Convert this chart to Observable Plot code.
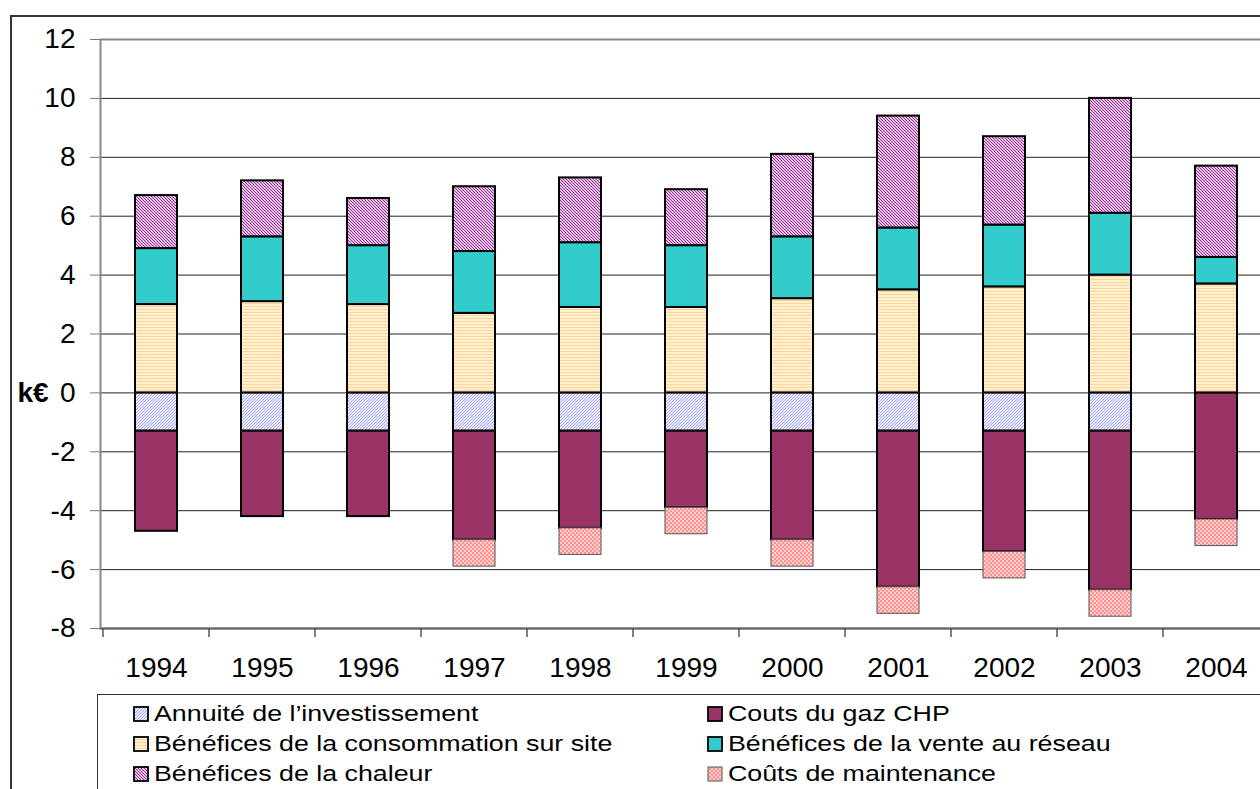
<!DOCTYPE html>
<html><head><meta charset="utf-8">
<script src="https://cdn.jsdelivr.net/npm/d3@7"></script>
<script src="https://cdn.jsdelivr.net/npm/@observablehq/plot@0.6"></script>
<style>
body{margin:0;background:#fff;}
#page{position:relative;width:1260px;height:789px;overflow:hidden;font-family:"Liberation Sans",Arial,sans-serif;}
#frame{position:absolute;left:10px;top:15px;width:1300px;height:800px;border-left:2px solid #333;border-top:2px solid #333;box-sizing:border-box;}
#chart{position:absolute;left:0;top:0;}
#legend{position:absolute;left:97px;top:694px;width:1300px;height:120px;border:1px solid #333;font-size:22.5px;color:#000;}
.item{position:absolute;display:flex;align-items:center;white-space:nowrap;height:26px;}
.item svg{margin-right:5px;flex:none;}
.item span{display:inline-block;transform:scaleX(1.19);transform-origin:left center;}
</style></head>
<body>
<div id="page">
  <div id="chart"></div>
  <div id="frame"></div>
  <div id="legend"></div>
</div>
<script>
const years = ["1994","1995","1996","1997","1998","1999","2000","2001","2002","2003","2004"];
const yTicks = [-8,-6,-4,-2,0,2,4,6,8,10,12];
const seriesNames = ["Annuité de l’investissement","Couts du gaz CHP","Bénéfices de la consommation sur site","Bénéfices de la vente au réseau","Bénéfices de la chaleur","Coûts de maintenance"];
const annuite     = [-1.3,-1.3,-1.3,-1.3,-1.3,-1.3,-1.3,-1.3,-1.3,-1.3,0];
const gaz         = [-3.4,-2.9,-2.9,-3.7,-3.3,-2.6,-3.7,-5.3,-4.1,-5.4,-4.3];
const conso       = [3.0,3.1,3.0,2.7,2.9,2.9,3.2,3.5,3.6,4.0,3.7];
const vente       = [1.9,2.2,2.0,2.1,2.2,2.1,2.1,2.1,2.1,2.1,0.9];
const chaleur     = [1.8,1.9,1.6,2.2,2.2,1.9,2.8,3.8,3.0,3.9,3.1];
const maintenance = [0,0,0,-0.9,-0.9,-0.9,-0.9,-0.9,-0.9,-0.9,-0.9];
const seriesValues = [annuite, gaz, conso, vente, chaleur, maintenance];

const fills   = ["url(#pAnn)","#993366","url(#pConso)","#33cccc","url(#pChal)","url(#pMaint)"];
const strokeC = ["#000","#000","#000","#000","#000","#555"];
const strokeW = [2,2,2,2,2,1];

const rows = [];
seriesNames.forEach((s,i) => years.forEach((y,j) => {
  const v = seriesValues[i][j];
  if (v !== 0) rows.push({year: y, series: s, value: v, idx: i});
}));

const chart = Plot.plot({
  width: 1272, height: 690,
  marginTop: 39, marginBottom: 62, marginLeft: 100, marginRight: 0,
  style: {fontFamily: "'Liberation Sans', Arial, sans-serif", fontSize: "28px", background: "transparent", maxWidth: "none", color: "#000", overflow: "visible"},
  x: {domain: years, paddingInner: 0.6, paddingOuter: 0.3, align: 0.5, label: null},
  y: {domain: [-8, 12], label: null},
  color: {type: "identity"},
  marks: [
    Plot.ruleY(yTicks.filter(t => t > -8 && t < 12), {stroke: "#222", strokeWidth: 1}),
    Plot.frame({stroke: "#888", strokeWidth: 2}),
    Plot.ruleY([-8], {stroke: "#666", strokeWidth: 2}),
    Plot.axisY({ticks: yTicks, tickSize: 10, tickPadding: 15, tickFormat: d => String(d), stroke: "#777", fill: "#000", label: null, fontSize: 28}),
    Plot.axisX({tickSize: 0, tickPadding: 29, label: null, fontSize: 28, fill: "#000"}),
    Plot.barY(rows, Plot.stackY({x: "year", y: "value", fill: d => fills[d.idx], stroke: d => strokeC[d.idx], strokeWidth: d => strokeW[d.idx], order: null})),
    Plot.text([0], {y: d => d, frameAnchor: "left", dx: -83, text: () => "k€", textAnchor: "start", fontWeight: "bold", fontSize: 28, fill: "#000"})
  ]
});

const svg = d3.select(chart);
const defs = svg.insert("defs", ":first-child");
function pat(id, w, h, build) {
  const p = defs.append("pattern").attr("id", id).attr("patternUnits", "userSpaceOnUse").attr("width", w).attr("height", h);
  build(p);
}
pat("pAnn", 3, 3, p => {
  p.append("rect").attr("width", 3).attr("height", 3).attr("fill", "#ececff");
  p.append("path").attr("d", "M0,3L3,0M-1,1L1,-1M2,4L4,2").attr("stroke", "#a0a0ff").attr("stroke-width", 0.9);
});
pat("pConso", 3, 3, p => {
  p.append("rect").attr("width", 3).attr("height", 3).attr("fill", "#fff0d2");
  p.append("rect").attr("width", 3).attr("height", 1).attr("fill", "#ffd498");
});
pat("pChal", 3, 3, p => {
  p.append("rect").attr("width", 3).attr("height", 3).attr("fill", "#ffffff");
  p.append("path").attr("d", "M0,0L3,3M-1,2L1,4M2,-1L4,1").attr("stroke", "#993399").attr("stroke-width", 1.2);
});
pat("pMaint", 4, 4, p => {
  p.append("rect").attr("width", 4).attr("height", 4).attr("fill", "#ffd0d0");
  p.append("rect").attr("width", 2).attr("height", 2).attr("fill", "#ff9090");
  p.append("rect").attr("x", 2).attr("y", 2).attr("width", 2).attr("height", 2).attr("fill", "#ff9090");
});

// category boundary ticks on the x axis, from the band scale
const xs = chart.scale("x");
const ys = chart.scale("y");
const yb = ys.apply(-8);
const gap = (xs.step - xs.bandwidth) / 2;
const bounds = years.map(y => xs.apply(y) - gap);
bounds.push(bounds[bounds.length - 1] + xs.step);
const tg = svg.append("g");
bounds.forEach(x => tg.append("line").attr("x1", x).attr("x2", x).attr("y1", yb).attr("y2", yb + 9).attr("stroke", "#555").attr("stroke-width", 1.5));

document.getElementById("chart").appendChild(chart);

// legend
const legend = document.getElementById("legend");
const cols = [35, 609];
const rowTops = [6, 36, 66];
const order = [[0,1],[2,3],[4,5]];
order.forEach((pair, r) => pair.forEach((si, c) => {
  const item = document.createElement("div");
  item.className = "item";
  item.style.left = cols[c] + "px";
  item.style.top = rowTops[r] + "px";
  item.innerHTML = `<svg width="16" height="16"><rect x="1" y="1" width="14" height="14" fill="${fills[si]}" stroke="${si===5 ? '#555' : '#000'}" stroke-width="${si===5 ? 1 : 1.8}"/></svg><span>${seriesNames[si]}</span>`;
  legend.appendChild(item);
}));
</script>
</body></html>
